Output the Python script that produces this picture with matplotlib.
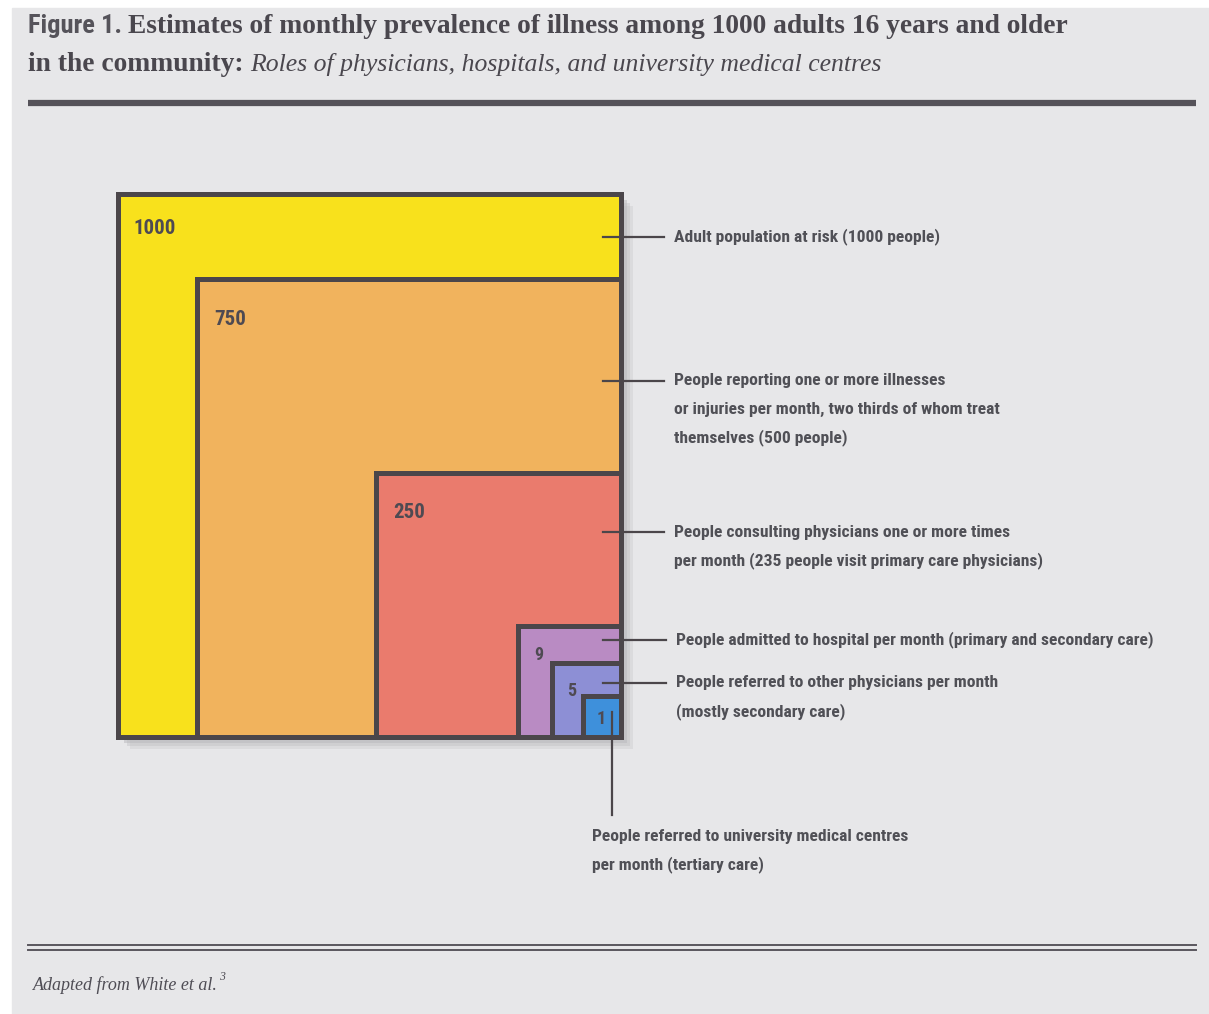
import matplotlib
matplotlib.use("Agg")
import matplotlib.pyplot as plt
from matplotlib.patches import Rectangle

# data
values = [1000, 750, 250, 9, 5, 1]
box_colors = ["#f8e11c", "#f1b35d", "#ea7b6d", "#b98bc3", "#8d8fd5", "#3e90db"]
descriptions = [
    "Adult population at risk (1000 people)",
    "People reporting one or more illnesses\nor injuries per month, two thirds of whom treat\nthemselves (500 people)",
    "People consulting physicians one or more times\nper month (235 people visit primary care physicians)",
    "People admitted to hospital per month (primary and secondary care)",
    "People referred to other physicians per month\n(mostly secondary care)",
    "People referred to university medical centres\nper month (tertiary care)",
]

# layout (pixels), squares share the bottom right corner
outer_left, outer_top, outer_right, outer_bottom = 118, 194, 621, 737
side_frac = [1.0, 0.843, 0.487, 0.204, 0.137, 0.075]
num_offset = [(15, 34), (17, 40), (17, 40), (16, 29), (15, 28), (13, 23)]
num_size = [15, 15, 15, 13, 13, 13]
leader_y = [237, 381, 532, 640, 683]

W, H = 1209, 1014
ink = "#4b464a"
txt = "#505056"
sans = ["Liberation Sans Narrow", "Roboto Condensed", "DejaVu Sans"]
serif = "Liberation Serif"

fig = plt.figure(figsize=(W / 100, H / 100), dpi=100, facecolor="white")
ax = fig.add_axes([0, 0, 1, 1])
ax.set_xlim(0, W)
ax.set_ylim(H, 0)
ax.axis("off")
renderer = fig.canvas.get_renderer()


def run_of_text(x, y, pieces, gap=0):
    # write pieces one after another on the same baseline
    for s, kw in pieces:
        t = ax.text(x, y, s, va="baseline", ha="left", **kw)
        bb = t.get_window_extent(renderer)
        x = x + bb.width + gap
    return x


# paper
ax.add_patch(Rectangle((12, 8), W - 12, H - 8, color="#e7e7e9", zorder=0))

# title
tcol = "#4a474e"
run_of_text(28, 33, [
    ("Figure 1. ", dict(fontsize=19, fontweight="bold", family=sans, color="#55535a")),
    ("Estimates of monthly prevalence of illness among 1000 adults 16 years and older",
     dict(fontsize=19.8, fontweight="bold", family=serif, color=tcol)),
])
run_of_text(28, 71, [
    ("in the community: ", dict(fontsize=19.8, fontweight="bold", family=serif, color=tcol)),
    ("Roles of physicians, hospitals, and university medical centres",
     dict(fontsize=18.5, style="italic", family=serif, color=tcol)),
])
ax.plot([28, 1196], [103, 103], color="#555259", lw=4.5, solid_capstyle="butt")

# shadow behind the squares
ow = outer_right - outer_left
oh = outer_bottom - outer_top
for k, a in [(12, 0.25), (9, 0.35), (6, 0.5)]:
    ax.add_patch(Rectangle((outer_left + k, outer_top + k), ow, oh,
                           color="#b9b9bd", alpha=a, lw=0, zorder=1))

# nested squares
for i, v in enumerate(values):
    w = ow * side_frac[i]
    h = oh * side_frac[i]
    x0 = outer_right - w
    y0 = outer_bottom - h
    ax.add_patch(Rectangle((x0, y0), w, h, facecolor=box_colors[i],
                           edgecolor=ink, lw=3.6, zorder=2 + i))
    dx, dy = num_offset[i]
    ax.text(x0 + dx, y0 + dy, str(v), fontsize=num_size[i], fontweight="bold",
            family=sans, color="#4e4a52", va="center", ha="left", zorder=10)

# leaders and descriptions
for i, y in enumerate(leader_y):
    x_end = 664 if i < 3 else 666
    ax.plot([603, x_end], [y, y], color=ink, lw=1.6, zorder=11)
    for j, line in enumerate(descriptions[i].split("\n")):
        ax.text(x_end + 10, y + j * 28.5, line, fontsize=12.6, fontweight="bold",
                family=sans, color=txt, va="center", ha="left", zorder=11)

ax.plot([612, 612], [712, 815], color=ink, lw=1.6, zorder=11)
for j, line in enumerate(descriptions[5].split("\n")):
    ax.text(592, 836 + j * 29, line, fontsize=12.6, fontweight="bold",
            family=sans, color=txt, va="center", ha="left", zorder=11)

# footer
ax.plot([28, 1196], [944.5, 944.5], color="#5a575e", lw=1.4)
ax.plot([28, 1196], [950, 950], color="#5a575e", lw=1.4)
xe = run_of_text(33, 990, [("Adapted from White et al.",
                            dict(fontsize=13, family=serif, style="italic", color="#4f4d55"))])
ax.text(xe + 1, 980, "3", fontsize=8.5, family=serif, style="italic",
        color="#4f4d55", va="baseline", ha="left")

fig.savefig("out.png", dpi=100, facecolor=fig.get_facecolor())
